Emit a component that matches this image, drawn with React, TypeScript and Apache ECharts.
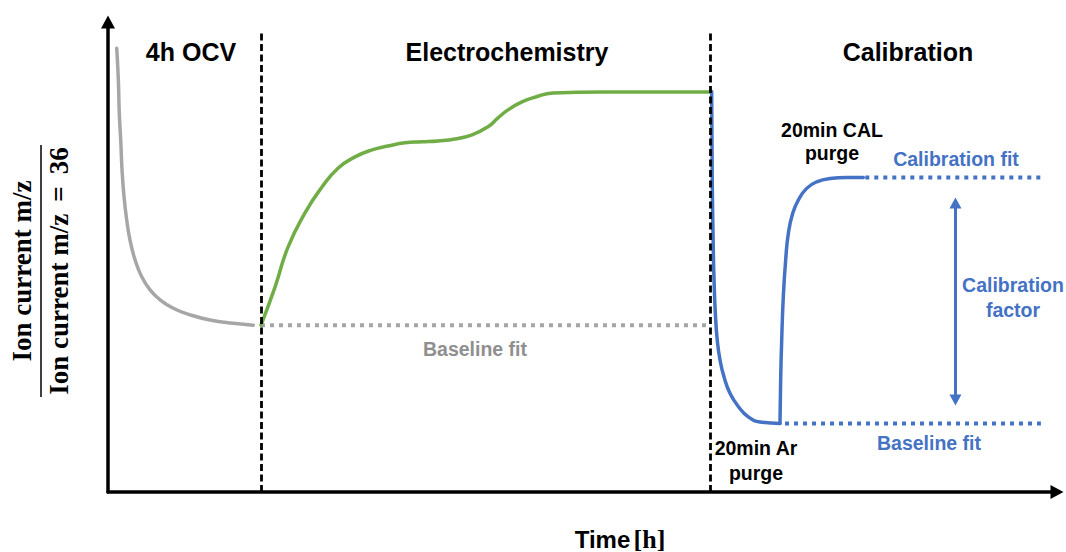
import React, { useEffect, useRef } from "react";
import * as echarts from "echarts";

// Normalised time / signal units (0–100 on both axes)
const ocvDecay: [number, number][] = [
  [0.92, 94.4], [1.09, 87.7], [1.19, 80.6], [1.34, 74.9], [1.48, 68.5], [1.69, 62.8],
  [1.97, 57.9], [2.32, 53.6], [2.85, 49.4], [3.55, 45.8], [4.43, 43.0], [5.48, 40.9],
  [6.88, 39.1], [8.64, 37.7], [10.75, 36.6], [13.2, 35.9], [15.31, 35.5],
];

const electrochemistry: [number, number][] = [
  [16.12, 35.5], [17.6, 43.6], [18.97, 52.1], [20.76, 59.4], [22.55, 64.9], [24.24, 68.9],
  [26.03, 71.3], [27.82, 72.8], [29.5, 73.6], [31.3, 74.3], [33.09, 74.5], [34.77, 74.7],
  [36.56, 75.1], [38.36, 76.0], [40.04, 77.7], [41.1, 79.6], [42.15, 81.3], [43.62, 83.0],
  [44.99, 84.0], [46.89, 84.9], [52.16, 85.1], [63.43, 85.1],
];

const arPurge: [number, number][] = [
  [63.61, 85.2], [63.67, 66.4], [63.78, 52.2], [63.86, 45.1], [64.0, 38.0], [64.2, 32.3],
  [64.49, 28.1], [64.91, 24.5], [65.54, 21.0], [66.42, 18.2], [67.47, 16.0], [68.71, 14.9],
  [70.81, 14.6],
];

const calPurge: [number, number][] = [
  [70.81, 14.6], [70.88, 23.8], [70.99, 32.3], [71.16, 41.6], [71.41, 49.4], [71.69, 55.0],
  [72.15, 59.3], [72.74, 62.1], [73.62, 64.6], [74.68, 66.0], [76.08, 66.7], [77.84, 66.9],
  [79.59, 66.9],
];

const ocvBaselineFit: [number, number][] = [[16.12, 35.5], [63.43, 35.5]];
const calibrationFit: [number, number][] = [[79.8, 66.9], [98.3, 66.9]];
const calBaselineFit: [number, number][] = [[71.34, 14.6], [98.3, 14.6]];

// Phase boundaries (x) and their top end (y)
const phaseBoundaries = [16.12, 63.43];
const boundaryTop = 97.9;

// Calibration factor span (x, y bottom, y top)
const calFactorX = 89.3;
const calFactorSpan = [19.6, 61.5];

const phaseTitles = ["4h OCV", "Electrochemistry", "Calibration"];

const GRAY = "#a6a6a6";
const GREEN = "#70ad47";
const BLUE = "#4472c4";
const SANS = '"Liberation Sans", Arial, sans-serif';
const SERIF = '"Liberation Serif", "Times New Roman", serif';

function curve(name: string, data: [number, number][], color: string, z = 3) {
  return {
    name,
    type: "line",
    data,
    smooth: 0.5,
    showSymbol: false,
    symbol: "none",
    z,
    lineStyle: { color, width: 3.5, cap: "round", join: "round" },
  };
}

function dotted(name: string, data: [number, number][], color: string) {
  return {
    name,
    type: "line",
    data,
    showSymbol: false,
    symbol: "none",
    lineStyle: { color, width: 4, type: [4, 5], cap: "butt" },
  };
}

function txt(text: string, x: number, y: number, size: number, fill: string, lineHeight?: number) {
  return {
    type: "text",
    x,
    y,
    silent: true,
    style: {
      text,
      fill,
      font: `bold ${size}px ${SANS}`,
      align: "center",
      verticalAlign: "middle",
      textAlign: "center",
      textVerticalAlign: "middle",
      lineHeight: lineHeight ?? size * 1.2,
    },
  };
}

export default function App() {
  const ref = useRef<HTMLDivElement>(null);

  useEffect(() => {
    if (!ref.current) return;
    const chart = echarts.init(ref.current, null, { renderer: "svg" });

    const axisCommon = {
      type: "value",
      min: 0,
      max: 100,
      axisLine: {
        show: true,
        symbol: ["none", "triangle"],
        symbolSize: [14, 13],
        lineStyle: { color: "#000", width: 3.5 },
      },
      axisTick: { show: false },
      axisLabel: { show: false },
      splitLine: { show: false },
    };

    chart.setOption({
      animation: false,
      backgroundColor: "#fff",
      grid: { left: 108, right: 9, top: 22, bottom: 60 },
      xAxis: { ...axisCommon },
      yAxis: { ...axisCommon },
      series: [
        curve("OCV", ocvDecay, GRAY),
        dotted("OCV baseline fit", ocvBaselineFit, GRAY),
        curve("Electrochemistry", electrochemistry, GREEN),
        curve("Ar purge", arPurge, BLUE),
        curve("CAL purge", calPurge, BLUE),
        dotted("Calibration fit", calibrationFit, BLUE),
        dotted("Baseline fit", calBaselineFit, BLUE),
        {
          name: "Phase boundaries",
          type: "line",
          data: [],
          z: 10,
          markLine: {
            silent: true,
            symbol: ["none", "none"],
            label: { show: false },
            lineStyle: { color: "#000", width: 2.8, type: [7, 3.5] },
            data: phaseBoundaries.map((x) => [
              { coord: [x, 0] },
              { coord: [x, boundaryTop] },
            ]),
          },
        },
        {
          name: "Calibration factor",
          type: "line",
          data: [],
          z: 10,
          markLine: {
            silent: true,
            symbol: ["triangle", "triangle"],
            symbolSize: [12, 11],
            label: { show: false },
            lineStyle: { color: BLUE, width: 3, type: "solid" },
            data: [
              [
                { coord: [calFactorX, calFactorSpan[0]] },
                { coord: [calFactorX, calFactorSpan[1]] },
              ],
            ],
          },
        },
      ],
      graphic: [
        txt(phaseTitles[0], 191, 52, 25, "#000"),
        txt(phaseTitles[1], 507, 52, 25, "#000"),
        txt(phaseTitles[2], 908, 52, 25, "#000"),
        txt("Baseline fit", 475, 349, 19.5, "#8f8f8f"),
        txt("20min CAL\npurge", 832, 141.5, 19.5, "#000", 23),
        txt("Calibration fit", 956, 159, 19.5, BLUE),
        txt("Calibration\nfactor", 1013, 297.5, 19.5, BLUE, 25),
        txt("Baseline fit", 929, 443, 19.5, BLUE),
        txt("20min Ar\npurge", 756, 460.5, 19.5, "#000", 25),
        {
          type: "text",
          x: 620,
          y: 539,
          silent: true,
          style: {
            text: "{a|Time} {b|[h]}",
            align: "center",
            verticalAlign: "middle",
            textAlign: "center",
            textVerticalAlign: "middle",
            rich: {
              a: { font: `bold 24px ${SANS}`, fill: "#000" },
              b: { font: `bold 26px ${SERIF}`, fill: "#000" },
            },
          },
        },
        {
          type: "group",
          x: 41,
          y: 271,
          rotation: Math.PI / 2,
          silent: true,
          children: [
            {
              type: "text",
              x: 0,
              y: -19,
              style: {
                text: "Ion current m/z",
                fill: "#000",
                font: `bold 27px ${SERIF}`,
                align: "center",
                verticalAlign: "middle",
                textAlign: "center",
                textVerticalAlign: "middle",
              },
            },
            {
              type: "text",
              x: 0,
              y: 18,
              style: {
                text: "Ion current m/z \u2009=\u2009 36",
                fill: "#000",
                font: `bold 27px ${SERIF}`,
                align: "center",
                verticalAlign: "middle",
                textAlign: "center",
                textVerticalAlign: "middle",
              },
            },
          ],
        },
        {
          type: "line",
          silent: true,
          shape: { x1: 41, y1: 145, x2: 41, y2: 397 },
          style: { stroke: "#000", lineWidth: 1.5 },
        },
      ],
    });

    return () => chart.dispose();
  }, []);

  return (
    <div
      ref={ref}
      style={{ width: 1066, height: 552, position: "fixed", left: 0, top: 0 }}
    />
  );
}
